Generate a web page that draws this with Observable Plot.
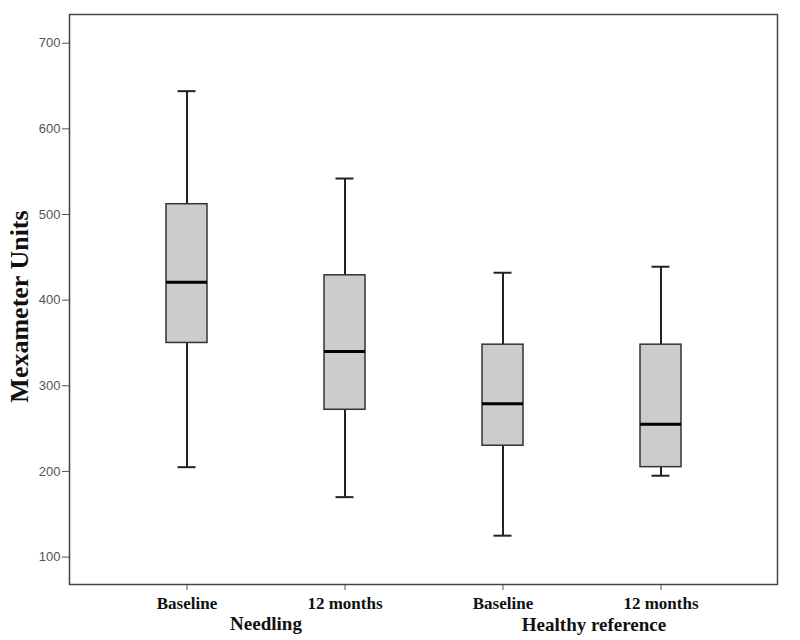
<!DOCTYPE html>
<html>
<head>
<meta charset="utf-8">
<script src="https://cdn.jsdelivr.net/npm/d3@7"></script>
<script src="https://cdn.jsdelivr.net/npm/@observablehq/plot@0.6"></script>
<style>
  html, body { margin: 0; padding: 0; background: #fff; }
</style>
</head>
<body>
<div id="chart"></div>
<script>
const categories = ["Needling Baseline", "Needling 12 months", "Healthy Baseline", "Healthy 12 months"];
const tickLabels = ["Baseline", "12 months", "Baseline", "12 months"];
const groups = ["Needling", "Healthy reference"];
const mins    = [205, 170, 125, 195];
const q1s     = [350, 272, 230, 205];
const medians = [421, 340, 279, 255];
const q3s     = [512, 429, 348, 348];
const maxs    = [644, 542, 432, 439];
const yTicks  = [100, 200, 300, 400, 500, 600, 700];
const yLabel  = "Mexameter Units";

const boxes = categories.map((c, i) => ({
  cat: c, min: mins[i], q1: q1s[i], med: medians[i], q3: q3s[i], max: maxs[i]
}));
const labelOf = new Map(categories.map((c, i) => [c, tickLabels[i]]));
const serif = "Liberation Serif, Times New Roman, serif";

const chart = Plot.plot({
  width: 800,
  height: 640,
  marginLeft: 69,
  marginRight: 23,
  marginTop: 14,
  marginBottom: 56,
  style: { fontFamily: "Liberation Sans, Arial, sans-serif", fontSize: "12px", background: "#fff" },
  x: { domain: categories, paddingInner: 0.742, paddingOuter: 0.6, axis: null },
  y: { domain: [68, 733.5], axis: null },
  marks: [
    Plot.axisY({ ticks: yTicks, tickSize: 7, tickPadding: 2, fontSize: 13, color: "#555", label: null }),
    Plot.axisX({
      tickSize: 6, tickPadding: 6, fontSize: 17, fontWeight: "bold",
      fontFamily: serif, fill: "#111", stroke: "#555", label: null,
      tickFormat: d => labelOf.get(d)
    }),
    // whiskers
    Plot.ruleX(boxes, { x: "cat", y1: "q3", y2: "max", stroke: "#222", strokeWidth: 2 }),
    Plot.ruleX(boxes, { x: "cat", y1: "min", y2: "q1", stroke: "#222", strokeWidth: 2 }),
    Plot.tickY(boxes, { x: "cat", y: "max", stroke: "#222", strokeWidth: 2, insetLeft: 11.5, insetRight: 11.5 }),
    Plot.tickY(boxes, { x: "cat", y: "min", stroke: "#222", strokeWidth: 2, insetLeft: 11.5, insetRight: 11.5 }),
    // boxes
    Plot.barY(boxes, { x: "cat", y1: "q1", y2: "q3", fill: "#cccccc", stroke: "#333", strokeWidth: 1.5 }),
    // medians
    Plot.tickY(boxes, { x: "cat", y: "med", stroke: "#000", strokeWidth: 3 }),
    Plot.frame({ stroke: "#444", strokeWidth: 1.5 }),
    // group labels
    Plot.text([groups[0]], { x: () => categories[0], frameAnchor: "bottom", dx: 79, dy: 45,
      text: d => d, fontSize: 19, fontWeight: "bold", fontFamily: serif, fill: "#111" }),
    Plot.text([groups[1]], { x: () => categories[2], frameAnchor: "bottom", dx: 91, dy: 46,
      text: d => d, fontSize: 19, fontWeight: "bold", fontFamily: serif, fill: "#111" }),
    // y label
    Plot.text([yLabel], { frameAnchor: "left", rotate: -90, dx: -50, dy: 7, text: d => d,
      fontSize: 26, fontWeight: "bold", fontFamily: serif, fill: "#111",
      textAnchor: "middle", lineAnchor: "middle" })
  ]
});
document.getElementById("chart").appendChild(chart);
</script>
</body>
</html>
